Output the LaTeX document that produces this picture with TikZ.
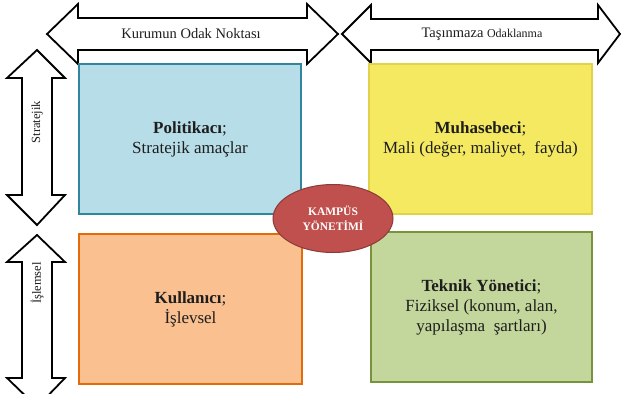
\documentclass[tikz,border=0pt]{standalone}
\usepackage{fontspec}
\setmainfont{Liberation Serif}
\usetikzlibrary{shapes.geometric}
\definecolor{bluefill}{HTML}{B7DDE8}
\definecolor{blueline}{HTML}{31859C}
\definecolor{yellowfill}{HTML}{F4E961}
\definecolor{yellowline}{HTML}{E2D24A}
\definecolor{orangefill}{HTML}{FAC090}
\definecolor{orangeline}{HTML}{E36C0A}
\definecolor{greenfill}{HTML}{C3D69B}
\definecolor{greenline}{HTML}{77933C}
\definecolor{redfill}{HTML}{C0504D}
\definecolor{redline}{HTML}{8C3A38}
\definecolor{txt}{HTML}{1E1E1E}
\begin{document}
\begin{tikzpicture}[x=1pt,y=-1pt,
  arrowshape/.style={draw=black,fill=white,line width=1.8pt,line join=miter},
  quadbox/.style={rectangle,line width=1.8pt,inner sep=0pt,align=center,text=txt,
    font=\fontsize{17}{20}\selectfont},
  hubshape/.style={ellipse,draw=redline,fill=redfill,line width=1pt,inner sep=0pt,
    minimum width=120pt,minimum height=68pt,align=center,text=white,
    font=\fontsize{11.5}{15}\selectfont\bfseries},
  arrowlabel/.style={inner sep=0pt,text=txt}]
\useasboundingbox (0,0) rectangle (622,394);
% horizontal arrows
\draw[arrowshape] (47,34) -- (78,4) -- (78,18) -- (307,18) -- (307,4) -- (338,34)
  -- (307,64) -- (307,50) -- (78,50) -- (78,64) -- cycle;
\draw[arrowshape] (342,34) -- (371,5) -- (371,19) -- (598,19) -- (598,5) -- (620,34)
  -- (598,63) -- (598,50) -- (371,50) -- (371,63) -- cycle;
\node[arrowlabel,font=\fontsize{14.5}{17}\selectfont] (lab1) at (191,34) {Kurumun Odak Noktası};
\node[arrowlabel] (lab2) at (482,34) {\fontsize{14.5}{17}\selectfont Taşınmaza \fontsize{12}{14}\selectfont Odaklanma};
% vertical arrows
\draw[arrowshape] (37,50) -- (65,78) -- (52,78) -- (52,195) -- (65,195) -- (37,225)
  -- (7,195) -- (22,195) -- (22,78) -- (7,78) -- cycle;
\draw[arrowshape] (37,235) -- (65,262) -- (52,262) -- (52,378) -- (65,378) -- (37,407)
  -- (7,378) -- (22,378) -- (22,262) -- (7,262) -- cycle;
\node[arrowlabel,rotate=90,font=\fontsize{12.5}{15}\selectfont] (lab3) at (37,122) {Stratejik};
\node[arrowlabel,rotate=90,font=\fontsize{12.5}{15}\selectfont] (lab4) at (37,283) {İşlemsel};
% quadrant boxes
\node[quadbox,draw=blueline,fill=bluefill,minimum width=222pt,minimum height=150pt]
  (pol) at (190,139) {\textbf{Politikacı};\\Stratejik amaçlar};
\node[quadbox,draw=yellowline,fill=yellowfill,minimum width=223pt,minimum height=150pt]
  (muh) at (480.5,139) {\textbf{Muhasebeci};\\Mali (değer, maliyet,\ \ fayda)};
\node[quadbox,draw=orangeline,fill=orangefill,minimum width=223pt,minimum height=150pt]
  (kul) at (190.5,309) {\textbf{Kullanıcı};\\İşlevsel};
\node[quadbox,draw=greenline,fill=greenfill,minimum width=221pt,minimum height=150pt]
  (tek) at (481.5,307) {\textbf{Teknik Yönetici};\\Fiziksel (konum, alan,\\yapılaşma\ \ şartları)};
% hub
\node[hubshape] (hub) at (333,218.5) {KAMPÜS\\YÖNETİMİ};
\end{tikzpicture}
\end{document}
